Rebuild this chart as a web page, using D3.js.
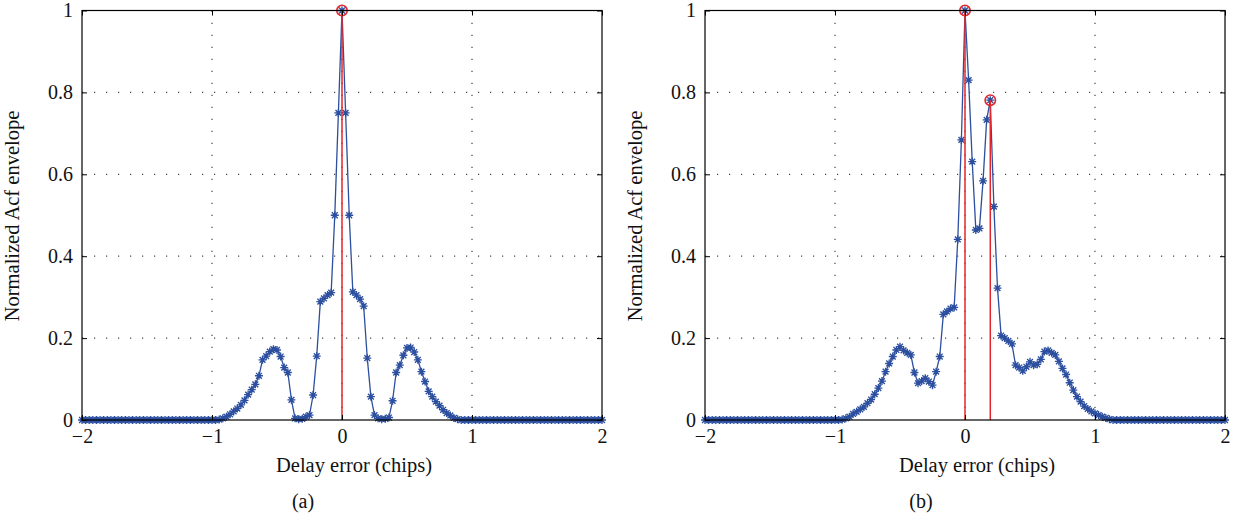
<!DOCTYPE html>
<html>
<head>
    <meta charset="utf-8">
    <title>Normalized Acf envelope</title>
    <script src="https://cdn.jsdelivr.net/npm/d3@7"></script>
    <style>
        html, body { margin: 0; padding: 0; background: #fff; }
        svg text { font-family: "Liberation Serif", "Times New Roman", serif; fill: #111; }
    </style>
</head>
<body>
<svg id="chart" width="1235" height="521"></svg>
<script>
    // sampling: 36 samples per chip, -2 .. 2 chips
    const samplesPerChip = 36;
    const delay = d3.range(145).map(i => -2 + i / samplesPerChip);

    // panel (a) envelope
    const acfA = [
        0, 0, 0, 0, 0, 0, 0, 0, 0, 0, 0, 0, 0, 0, 0, 0, 0, 0, 0, 0,
        0, 0, 0, 0, 0, 0, 0, 0, 0, 0, 0, 0, 0, 0, 0, 0, 0, 0,
        0.001, 0.004, 0.008, 0.014, 0.021, 0.028, 0.037, 0.048, 0.062, 0.074,
        0.087, 0.108, 0.147, 0.156, 0.167, 0.173, 0.171, 0.155, 0.128, 0.116,
        0.049, 0.004, 0.002, 0.003, 0.008, 0.012, 0.061, 0.156, 0.289, 0.297,
        0.305, 0.311, 0.5, 0.75,
        1,
        0.75, 0.5, 0.313, 0.305, 0.295, 0.278, 0.151, 0.057, 0.012, 0.004,
        0.002, 0.003, 0.006, 0.047, 0.116, 0.134, 0.158, 0.176, 0.177, 0.166,
        0.147, 0.118, 0.094, 0.070, 0.057, 0.045, 0.035, 0.025, 0.017, 0.011,
        0.005, 0.002, 0,
        0, 0, 0, 0, 0, 0, 0, 0, 0, 0, 0, 0, 0, 0, 0, 0, 0, 0, 0, 0,
        0, 0, 0, 0, 0, 0, 0, 0, 0, 0, 0, 0, 0, 0, 0, 0, 0, 0, 0
    ];

    // panel (b) envelope (two paths)
    const acfB = [
        0, 0, 0, 0, 0, 0, 0, 0, 0, 0, 0, 0, 0, 0, 0, 0, 0, 0, 0, 0,
        0, 0, 0, 0, 0, 0, 0, 0, 0, 0, 0, 0, 0, 0, 0, 0, 0, 0,
        0.001, 0.004, 0.008, 0.015, 0.020, 0.026, 0.032, 0.041, 0.050, 0.063,
        0.078, 0.095, 0.118, 0.138, 0.155, 0.171, 0.179, 0.170, 0.164, 0.159,
        0.116, 0.090, 0.095, 0.102, 0.094, 0.085, 0.118, 0.155, 0.258, 0.265,
        0.272, 0.275, 0.441, 0.684,
        1,
        0.83, 0.631, 0.464, 0.468, 0.584, 0.733, 0.781, 0.521, 0.322, 0.206,
        0.200, 0.193, 0.186, 0.134, 0.128, 0.120, 0.130, 0.142, 0.134, 0.136,
        0.148, 0.167, 0.170, 0.164, 0.159, 0.143, 0.126, 0.111, 0.091, 0.073,
        0.057, 0.045, 0.034, 0.027, 0.021, 0.016, 0.012, 0.008, 0.005, 0.002,
        0, 0, 0, 0, 0, 0, 0, 0, 0, 0, 0, 0, 0, 0, 0, 0,
        0, 0, 0, 0, 0, 0, 0, 0, 0, 0, 0, 0, 0, 0, 0, 0
    ];

    // detected peaks (red stems)
    const peaksAx = [0];
    const peaksAy = [1];
    const peaksBx = [0, 7 / 36];
    const peaksBy = [1, 0.781];

    const xTicks = [-2, -1, 0, 1, 2];
    const yTicks = [0, 0.2, 0.4, 0.6, 0.8, 1];
    const xLabel = "Delay error (chips)";
    const yLabel = "Normalized Acf envelope";

    const blue = "#2c4f9f";
    const red = "#e3262b";
    const svg = d3.select("#chart");
    svg.append("rect").attr("width", 1235).attr("height", 521).attr("fill", "#fff");

    const fmt = d => d === 0 ? "0" : (d < 0 ? "\u2212" + Math.abs(d) : String(d));
    const star = "M-4,0H4M0,-4V4M-2.9,-2.9L2.9,2.9M-2.9,2.9L2.9,-2.9";

    function drawPanel(left, values, px, py, tag, tagX) {
        const x = d3.scaleLinear().domain([-2, 2]).range([left, left + 520]);
        const y = d3.scaleLinear().domain([0, 1]).range([420, 10.5]);
        const g = svg.append("g");

        // dotted grid
        g.selectAll(".gx").data(xTicks.slice(1, -1)).enter().append("line")
            .attr("x1", d => x(d)).attr("x2", d => x(d))
            .attr("y1", y(0)).attr("y2", y(1))
            .attr("stroke", "#444").attr("stroke-width", 1.2)
            .attr("stroke-dasharray", "1.2,10.8");
        g.selectAll(".gy").data(yTicks.slice(1, -1)).enter().append("line")
            .attr("x1", x(-2)).attr("x2", x(2))
            .attr("y1", d => y(d)).attr("y2", d => y(d))
            .attr("stroke", "#444").attr("stroke-width", 1.2)
            .attr("stroke-dasharray", "1.2,10.8");

        // envelope line + star markers
        const pts = delay.map((d, i) => [d, values[i]]);
        g.append("path").datum(pts)
            .attr("fill", "none").attr("stroke", blue).attr("stroke-width", 1.3)
            .attr("d", d3.line().x(d => x(d[0])).y(d => y(d[1])));
        g.selectAll(".st").data(pts).enter().append("path")
            .attr("d", star)
            .attr("transform", d => `translate(${x(d[0])},${y(d[1])})`)
            .attr("stroke", blue).attr("stroke-width", 1.35).attr("fill", "none");

        // red stems with circles
        const peaks = px.map((d, i) => [d, py[i]]);
        g.selectAll(".stem").data(peaks).enter().append("line")
            .attr("x1", d => x(d[0])).attr("x2", d => x(d[0]))
            .attr("y1", y(0)).attr("y2", d => y(d[1]))
            .attr("stroke", red).attr("stroke-width", 1.5);
        g.selectAll(".pk").data(peaks).enter().append("circle")
            .attr("cx", d => x(d[0])).attr("cy", d => y(d[1])).attr("r", 5.2)
            .attr("fill", "none").attr("stroke", red).attr("stroke-width", 1.6);

        // axes
        g.append("g").attr("transform", `translate(0,${y(0)})`)
            .call(d3.axisBottom(x).tickValues(xTicks).tickSize(-5).tickPadding(9).tickFormat(fmt));
        g.append("g").attr("transform", `translate(${x(-2)},0)`)
            .call(d3.axisLeft(y).tickValues(yTicks).tickSize(-5).tickPadding(9).tickFormat(fmt));
        g.append("g").attr("transform", `translate(0,${y(1)})`)
            .call(d3.axisTop(x).tickValues(xTicks).tickSize(-5).tickFormat(""));
        g.append("g").attr("transform", `translate(${x(2)},0)`)
            .call(d3.axisRight(y).tickValues(yTicks).tickSize(-5).tickFormat(""));
        g.selectAll(".domain").remove();
        g.selectAll(".tick line").attr("stroke", "#000");
        g.selectAll(".tick text").style("font-size", "20px")
            .style("font-family", "'Liberation Serif', serif").attr("fill", "#111");

        g.append("rect")
            .attr("x", x(-2)).attr("y", y(1))
            .attr("width", x(2) - x(-2)).attr("height", y(0) - y(1))
            .attr("fill", "none").attr("stroke", "#000").attr("stroke-width", 1.2);

        // labels
        g.append("text").attr("x", (x(-2) + x(2)) / 2 + 12).attr("y", 472)
            .attr("text-anchor", "middle").style("font-size", "20.5px").text(xLabel);
        g.append("text")
            .attr("transform", `translate(${left - 63},216) rotate(-90)`)
            .attr("text-anchor", "middle").style("font-size", "20.5px").text(yLabel);
        g.append("text").attr("x", tagX).attr("y", 508)
            .attr("text-anchor", "middle").style("font-size", "20px").text(tag);
    }

    drawPanel(82, acfA, peaksAx, peaksAy, "(a)", 303);
    drawPanel(705, acfB, peaksBx, peaksBy, "(b)", 921);
</script>
</body>
</html>
